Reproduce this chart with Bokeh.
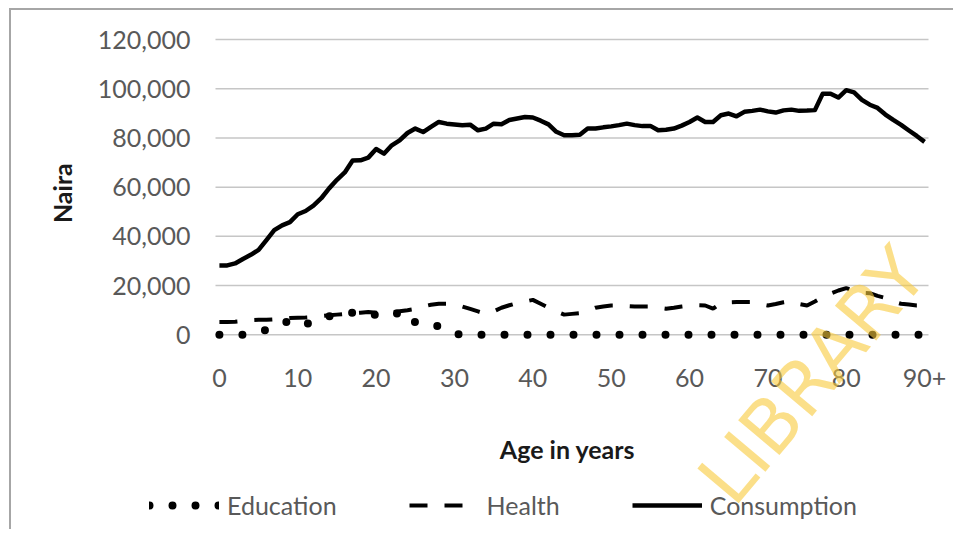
import math
from bokeh.plotting import figure
from bokeh.models import Legend, LegendItem, Range1d, Label
from bokeh.core.properties import value
from bokeh.embed import file_html
from bokeh.resources import INLINE

ages = list(range(91))

education = [0, 0, 0, 0, 500, 1200, 2000, 3000, 4200, 6000,
             5500, 4200, 5500, 7000, 7500, 8200, 9000, 9000, 9200, 9000,
             8000, 7200, 8000, 9000, 9200, 5000, 4000, 3800, 3500, 2000,
             500, 0, 0, 0, 0, 0, 0, 0, 0, 0,
             0, 0, 0, 0, 0, 0, 0, 0, 0, 0,
             0, 0, 0, 0, 0, 0, 0, 0, 0, 0,
             0, 0, 0, 0, 0, 0, 0, 0, 0, 0,
             0, 0, 0, 0, 0, 0, 0, 0, 0, 0,
             0, 0, 0, 0, 0, 0, 0, 0, 0, 0,
             0]

health = [5200, 5200, 5300, 5600, 6000, 6100, 6100, 6300, 6500, 6800,
          6900, 7000, 7200, 7600, 7900, 8200, 8500, 8800, 9000, 9300,
          9000, 8800, 9200, 9600, 10000, 10500, 11500, 12200, 12600, 12600,
          12600, 11500, 10500, 9500, 8500, 9500, 11000, 12000, 12900, 13500,
          14200, 12600, 11000, 9500, 8200, 8500, 8800, 9800, 11000, 11500,
          11900, 11900, 11700, 11500, 11500, 11500, 11000, 10600, 11000, 11500,
          11900, 12000, 11900, 10600, 12900, 13200, 13300, 13300, 13300, 12500,
          11900, 12500, 13200, 13700, 12500, 11900, 13500, 15300, 16700, 18000,
          19000, 18000, 17000, 16900, 15800, 15000, 13500, 12600, 12300, 11900,
          11900]

consumption = [28200, 28200, 29000, 30800, 32500, 34500, 38500, 42500, 44500, 45800,
               49000, 50300, 52500, 55500, 59500, 63000, 66000, 70800, 70900, 72000,
               75500, 73600, 77000, 79000, 82000, 83800, 82400, 84500, 86500, 85800,
               85500, 85200, 85400, 83100, 83800, 85800, 85600, 87300, 87900, 88500,
               88300, 87000, 85500, 82500, 81100, 81100, 81300, 83800, 83800, 84300,
               84700, 85200, 85800, 85200, 84800, 84900, 83100, 83300, 83800, 85000,
               86500, 88300, 86500, 86500, 89200, 89900, 88800, 90600, 91000, 91500,
               90800, 90300, 91200, 91500, 91000, 91100, 91300, 98000, 98000, 96400,
               99400, 98500, 95500, 93500, 92200, 89500, 87300, 85300, 83000, 80800,
               78400]

series_names = ["Education", "Health", "Consumption"]
x_ticks = [0, 10, 20, 30, 40, 50, 60, 70, 80, 90]
x_tick_labels = ["0", "10", "20", "30", "40", "50", "60", "70", "80", "90+"]
y_ticks = [0, 20000, 40000, 60000, 80000, 100000, 120000]
y_tick_labels = ["0", "20,000", "40,000", "60,000", "80,000", "100,000", "120,000"]
x_title = "Age in years"
y_title = "Naira"
watermark = "LIBRARY"

FONT = "Lato"
FS = "25px"

# ---- layout (canvas pixels) ----
W, H = 944, 521
PLOT_L, PLOT_R, PLOT_T, PLOT_B = 204.0, 917.0, 29.0, 324.3
X_MIN, X_MAX = -0.5, 90.5
Y_MIN, Y_MAX = 0, 120000
ppx = (PLOT_R - PLOT_L) / (X_MAX - X_MIN)
ppy = (PLOT_B - PLOT_T) / (Y_MAX - Y_MIN)
XL = X_MIN - PLOT_L / ppx
XR = XL + W / ppx
YT = Y_MAX + PLOT_T / ppy
YB = YT - H / ppy


def px_x(px):
    return XL + px / ppx


def px_y(py):
    return YT - py / ppy


p = figure(width=W, height=H, output_backend="svg", toolbar_location=None,
           x_range=Range1d(XL, XR), y_range=Range1d(YB, YT),
           x_axis_location=None, y_axis_location=None,
           min_border=0, min_border_left=0, min_border_right=0,
           min_border_top=0, min_border_bottom=0,
           margin=(8, 0, 0, 9),
           styles={"border-left": "2px solid #a6a6a6",
                   "border-top": "2px solid #a6a6a6"})
p.outline_line_color = None
p.background_fill_color = "white"
p.border_fill_color = "white"
p.grid.visible = False

# horizontal gridlines over the plot area only
p.segment(x0=[X_MIN] * len(y_ticks), x1=[X_MAX] * len(y_ticks), y0=y_ticks, y1=y_ticks,
          line_color="#c6c6c6", line_width=1.5)

r_edu = p.line(ages, education, line_color="black", line_width=8,
               line_dash="0 23", line_cap="round")
r_health = p.line(ages, health, line_color="black", line_width=4,
                  line_dash="18 17")
r_cons = p.line(ages, consumption, line_color="black", line_width=4.5,
                line_join="round")

# tick labels
p.text(x=[px_x(PLOT_L - 25)] * len(y_ticks), y=y_ticks, text=y_tick_labels,
       text_align="right", text_baseline="middle",
       text_font=value(FONT), text_font_size=FS, text_color="#595959")
p.text(x=x_ticks, y=[px_y(PLOT_B + 43)] * len(x_ticks), text=x_tick_labels,
       text_align="center", text_baseline="middle",
       text_font=value(FONT), text_font_size=FS, text_color="#595959")

# axis titles
p.text(x=[(X_MIN + X_MAX) / 2 - 4.5 / ppx], y=[px_y(PLOT_B + 114)], text=[x_title],
       text_align="center", text_baseline="middle",
       text_font=value(FONT), text_font_size=FS, text_font_style="bold",
       text_color="#1a1a1a")
p.text(x=[px_x(50)], y=[(Y_MIN + Y_MAX) / 2 - 6 / ppy], text=[y_title], angle=math.pi / 2,
       text_align="center", text_baseline="middle",
       text_font=value(FONT), text_font_size=FS, text_font_style="bold",
       text_color="#1a1a1a")

legend = Legend(items=[LegendItem(label=series_names[0], renderers=[r_edu]),
                       LegendItem(label=series_names[1], renderers=[r_health]),
                       LegendItem(label=series_names[2], renderers=[r_cons])],
                orientation="horizontal", location=(138, 11),
                glyph_width=70, glyph_height=30, label_height=30,
                label_standoff=8, spacing=72,
                padding=0, margin=0, border_line_color=None,
                background_fill_alpha=0,
                label_text_font=FONT, label_text_font_size=FS,
                label_text_color="#595959")
p.add_layout(legend)

wm = Label(x=801, y=156, x_units="screen", y_units="screen", text=watermark,
           angle=0.87, text_align="center", text_baseline="middle",
           text_font="DejaVu Sans", text_font_size="74px",
           text_color="#F9C93A", text_alpha=0.6)
p.add_layout(wm)

open("out.html", "w").write(file_html(p, INLINE))
